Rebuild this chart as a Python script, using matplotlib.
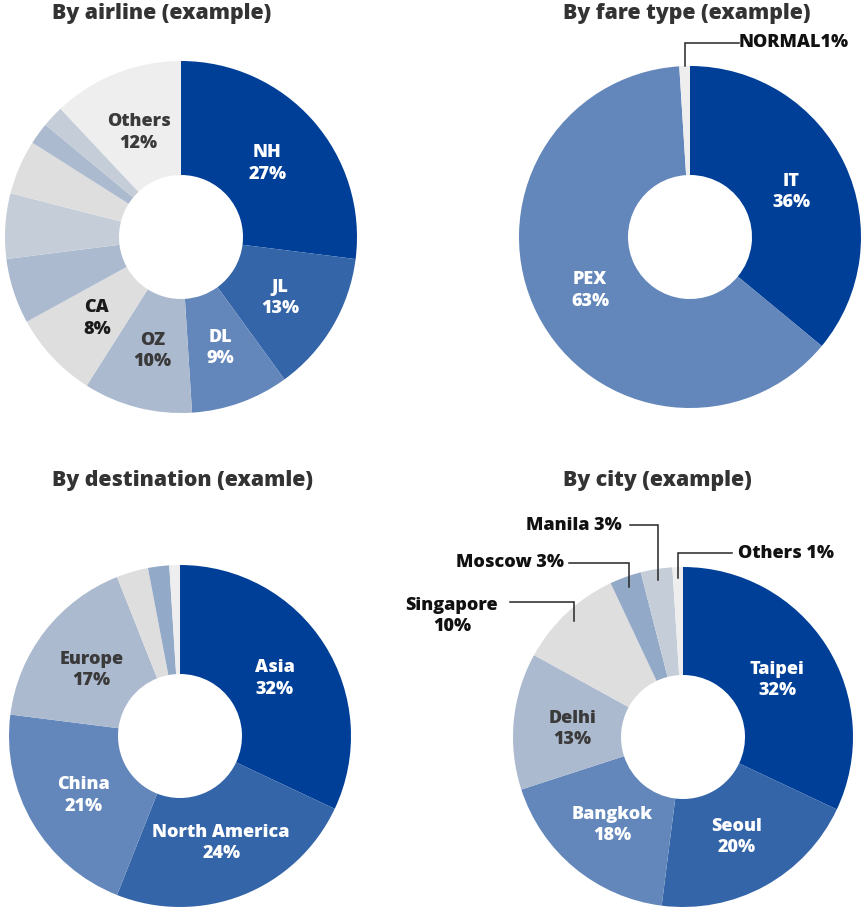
import numpy as np
import matplotlib
matplotlib.use("Agg")
import matplotlib.pyplot as plt

plt.rcParams['font.family'] = ['Open Sans', 'DejaVu Sans']

# ---------------- data ----------------
airline_labels = ["NH", "JL", "DL", "OZ", "CA", "", "", "", "", "", "Others"]
airline_values = [27, 13, 9, 10, 8, 6, 6, 5, 2, 2, 12]

fare_labels = ["IT", "PEX", "NORMAL"]
fare_values = [36, 63, 1]

dest_labels = ["Asia", "North America", "China", "Europe", "", "", ""]
dest_values = [32, 24, 21, 17, 3, 2, 1]

city_labels = ["Taipei", "Seoul", "Bangkok", "Delhi", "Singapore", "Moscow", "Manila", "Others"]
city_values = [32, 20, 18, 13, 10, 3, 3, 1]

titles = ["By airline (example)", "By fare type (example)",
          "By destination (examle)", "By city (example)"]

# ---------------- style ----------------
C1, C2, C3, C4 = "#003f98", "#3465a8", "#6387bb", "#abbacf"
C5, C6, C7, C8 = "#dedede", "#c5cdd8", "#93a9c8", "#eeeeee"
DARK_FILLS = {C1, C2, C3}

airline_colors = [C1, C2, C3, C4, C5, C4, C6, C5, C4, C6, C8]
fare_colors = [C1, C3, C8]
dest_colors = [C1, C2, C3, C4, C5, C7, C8]
city_colors = [C1, C2, C3, C4, C5, C7, C6, C8]

W, H = 866, 921
fig = plt.figure(figsize=(W / 100, H / 100), dpi=100)
fig.patch.set_facecolor("white")

LABEL_FS = 13
TITLE_FS = 15.3
WEIGHT = "heavy"
INNER_PX = 62
LS = 1.33


def make_ax(cx, cy, r):
    ax = fig.add_axes([(cx - r) / W, (H - cy - r) / H, 2 * r / W, 2 * r / H])
    ax.axis("off")
    return ax


def donut(ax, r_px, values, labels, colors, outside=(), label_r=0.655, dark_color="#3a3a3a",
          label_colors=None):
    width = 1 - INNER_PX / r_px
    wedges, _ = ax.pie(values, radius=1, startangle=90, counterclock=False,
                       colors=colors, wedgeprops=dict(width=width, linewidth=0))
    ax.set_xlim(-1, 1)
    ax.set_ylim(-1, 1)
    ax.set_aspect("equal")
    ax.axis("off")
    for i, (w, lab, v) in enumerate(zip(wedges, labels, values)):
        if not lab or lab in outside:
            continue
        mid = np.deg2rad((w.theta1 + w.theta2) / 2)
        col = "white" if colors[i] in DARK_FILLS else dark_color
        if label_colors and lab in label_colors:
            col = label_colors[lab]
        ax.text(label_r * np.cos(mid), label_r * np.sin(mid) - 0.015, f"{lab}\n{v}%",
                ha="center", va="center", fontsize=LABEL_FS, fontweight=WEIGHT,
                color=col, linespacing=LS)
    return wedges


def callout(ax, wedge, text, tx, ty, ha, line_y, line_end_x, anchor_r):
    mid = np.deg2rad((wedge.theta1 + wedge.theta2) / 2)
    ax_x = anchor_r * np.cos(mid)
    ax_y = anchor_r * np.sin(mid)
    ax.plot([ax_x, ax_x, line_end_x], [ax_y, line_y, line_y], color="#262626",
            lw=1.1, clip_on=False, solid_joinstyle="miter")
    ax.text(tx, ty, text, ha=ha, va="center", fontsize=LABEL_FS, fontweight=WEIGHT,
            color="#111111", linespacing=LS)


# ---- airline ----
ax1 = make_ax(181, 237, 176)
donut(ax1, 176, airline_values, airline_labels, airline_colors,
      label_colors={"CA": "#1a1a1a"})

# ---- fare ----
ax2 = make_ax(690, 237, 171)
w2 = donut(ax2, 171, fare_values, fare_labels, fare_colors, outside=("NORMAL",))
callout(ax2, w2[2], f"{fare_labels[2]}{fare_values[2]}%", 0.287, 1.135, "left",
        1.135, 0.287, 1.0)

# ---- destination ----
ax3 = make_ax(180, 736, 171)
donut(ax3, 171, dest_values, dest_labels, dest_colors)

# ---- city ----
ax4 = make_ax(683, 737, 170)
w4 = donut(ax4, 170, city_values, city_labels, city_colors,
           outside=("Singapore", "Moscow", "Manila", "Others"))
callout(ax4, w4[4], f"{city_labels[4]}\n{city_values[4]}%", -1.359, 0.712, "center",
        0.794, -1.018, 0.935)
callout(ax4, w4[5], f"{city_labels[5]} {city_values[5]}%", -0.70, 1.024, "right",
        1.024, -0.671, 0.935)
callout(ax4, w4[6], f"{city_labels[6]} {city_values[6]}%", -0.359, 1.247, "right",
        1.247, -0.312, 0.935)
callout(ax4, w4[7], f"{city_labels[7]} {city_values[7]}%", 0.324, 1.082, "left",
        1.082, 0.288, 0.935)

# ---- titles ----
title_pos = [(162, 13), (687, 13), (183, 480), (657, 480)]
for t, (x, y) in zip(titles, title_pos):
    fig.text(x / W, 1 - y / H, t, ha="center", va="center", fontsize=TITLE_FS,
             fontweight=WEIGHT, color="#333333")

fig.savefig("out.png", dpi=100, facecolor="white")
